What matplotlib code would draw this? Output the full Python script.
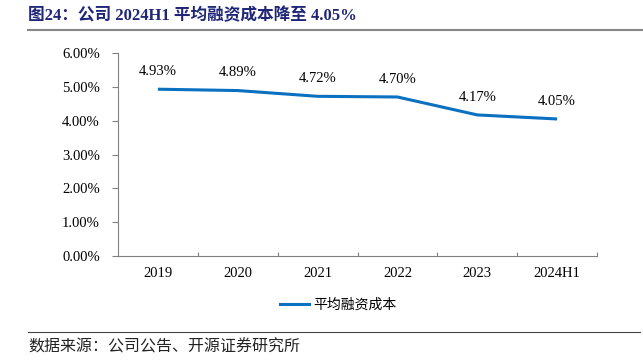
import matplotlib.pyplot as plt
from matplotlib.lines import Line2D

years = ["2019", "2020", "2021", "2022", "2023", "2024H1"]
cost = [4.93, 4.89, 4.72, 4.70, 4.17, 4.05]
series_name = "平均融资成本"

serif = ["Liberation Serif", "DejaVu Serif"]
cjk = ["Noto Sans CJK SC", "DejaVu Sans"]

fig = plt.figure(figsize=(6.43, 3.63), dpi=100)
ax = fig.add_axes([118 / 643, 1 - 256 / 363, 479 / 643, 203 / 363])

x = list(range(len(years)))
ax.plot(x, cost, color="#0A70C0", lw=2.2, solid_capstyle="butt")
for xi, v in zip(x, cost):
    ax.annotate(f"{v:.2f}%", (xi, v), xytext=(0, 8), textcoords="offset points",
                ha="center", va="bottom", fontsize=10.5, family=serif)

ax.set_xlim(-0.5, len(years) - 0.5)
ax.set_ylim(0, 6)
ax.set_yticks([0, 1, 2, 3, 4, 5, 6])
ax.set_yticklabels([f"{t:.2f}%" for t in range(7)], family=serif, fontsize=10.5)
ax.set_xticks([i + 0.5 for i in range(len(years))])
ax.set_xticklabels([])
ax.set_xticks(x, minor=True)
ax.set_xticklabels(years, minor=True, family=serif, fontsize=10.5)
ax.tick_params(axis="x", which="major", direction="in", length=3, color="#808080")
ax.tick_params(axis="x", which="minor", length=0, pad=8)
ax.tick_params(axis="y", direction="out", length=4, color="#808080", pad=9)
for s in ["top", "right"]:
    ax.spines[s].set_visible(False)
for s in ["left", "bottom"]:
    ax.spines[s].set_color("#808080")

handle = Line2D([], [], color="#0A70C0", lw=2.2)
fig.legend([handle], [series_name], loc="center", bbox_to_anchor=(338 / 643, 1 - 305 / 363),
           frameon=False, prop={"family": cjk, "size": 10}, handlelength=2.1, handletextpad=0.3)

fig.text(28 / 643, 1 - 16 / 363, "图24：公司 2024H1 平均融资成本降至 4.05%", color="#1F2678",
         fontsize=12, fontweight="bold", family=["Liberation Serif", "Noto Sans CJK SC"], va="center")
fig.add_artist(Line2D([28 / 643, 1], [1 - 29.5 / 363] * 2, color="#888888", lw=1.5))
fig.add_artist(Line2D([28 / 643, 640 / 643], [1 - 332 / 363] * 2, color="#444444", lw=0.8))
fig.text(28 / 643, 1 - 347 / 363, "数据来源：公司公告、开源证券研究所", fontsize=11.5, family=cjk,
         va="center", color="#222222")

fig.savefig("out.png", dpi=100)
